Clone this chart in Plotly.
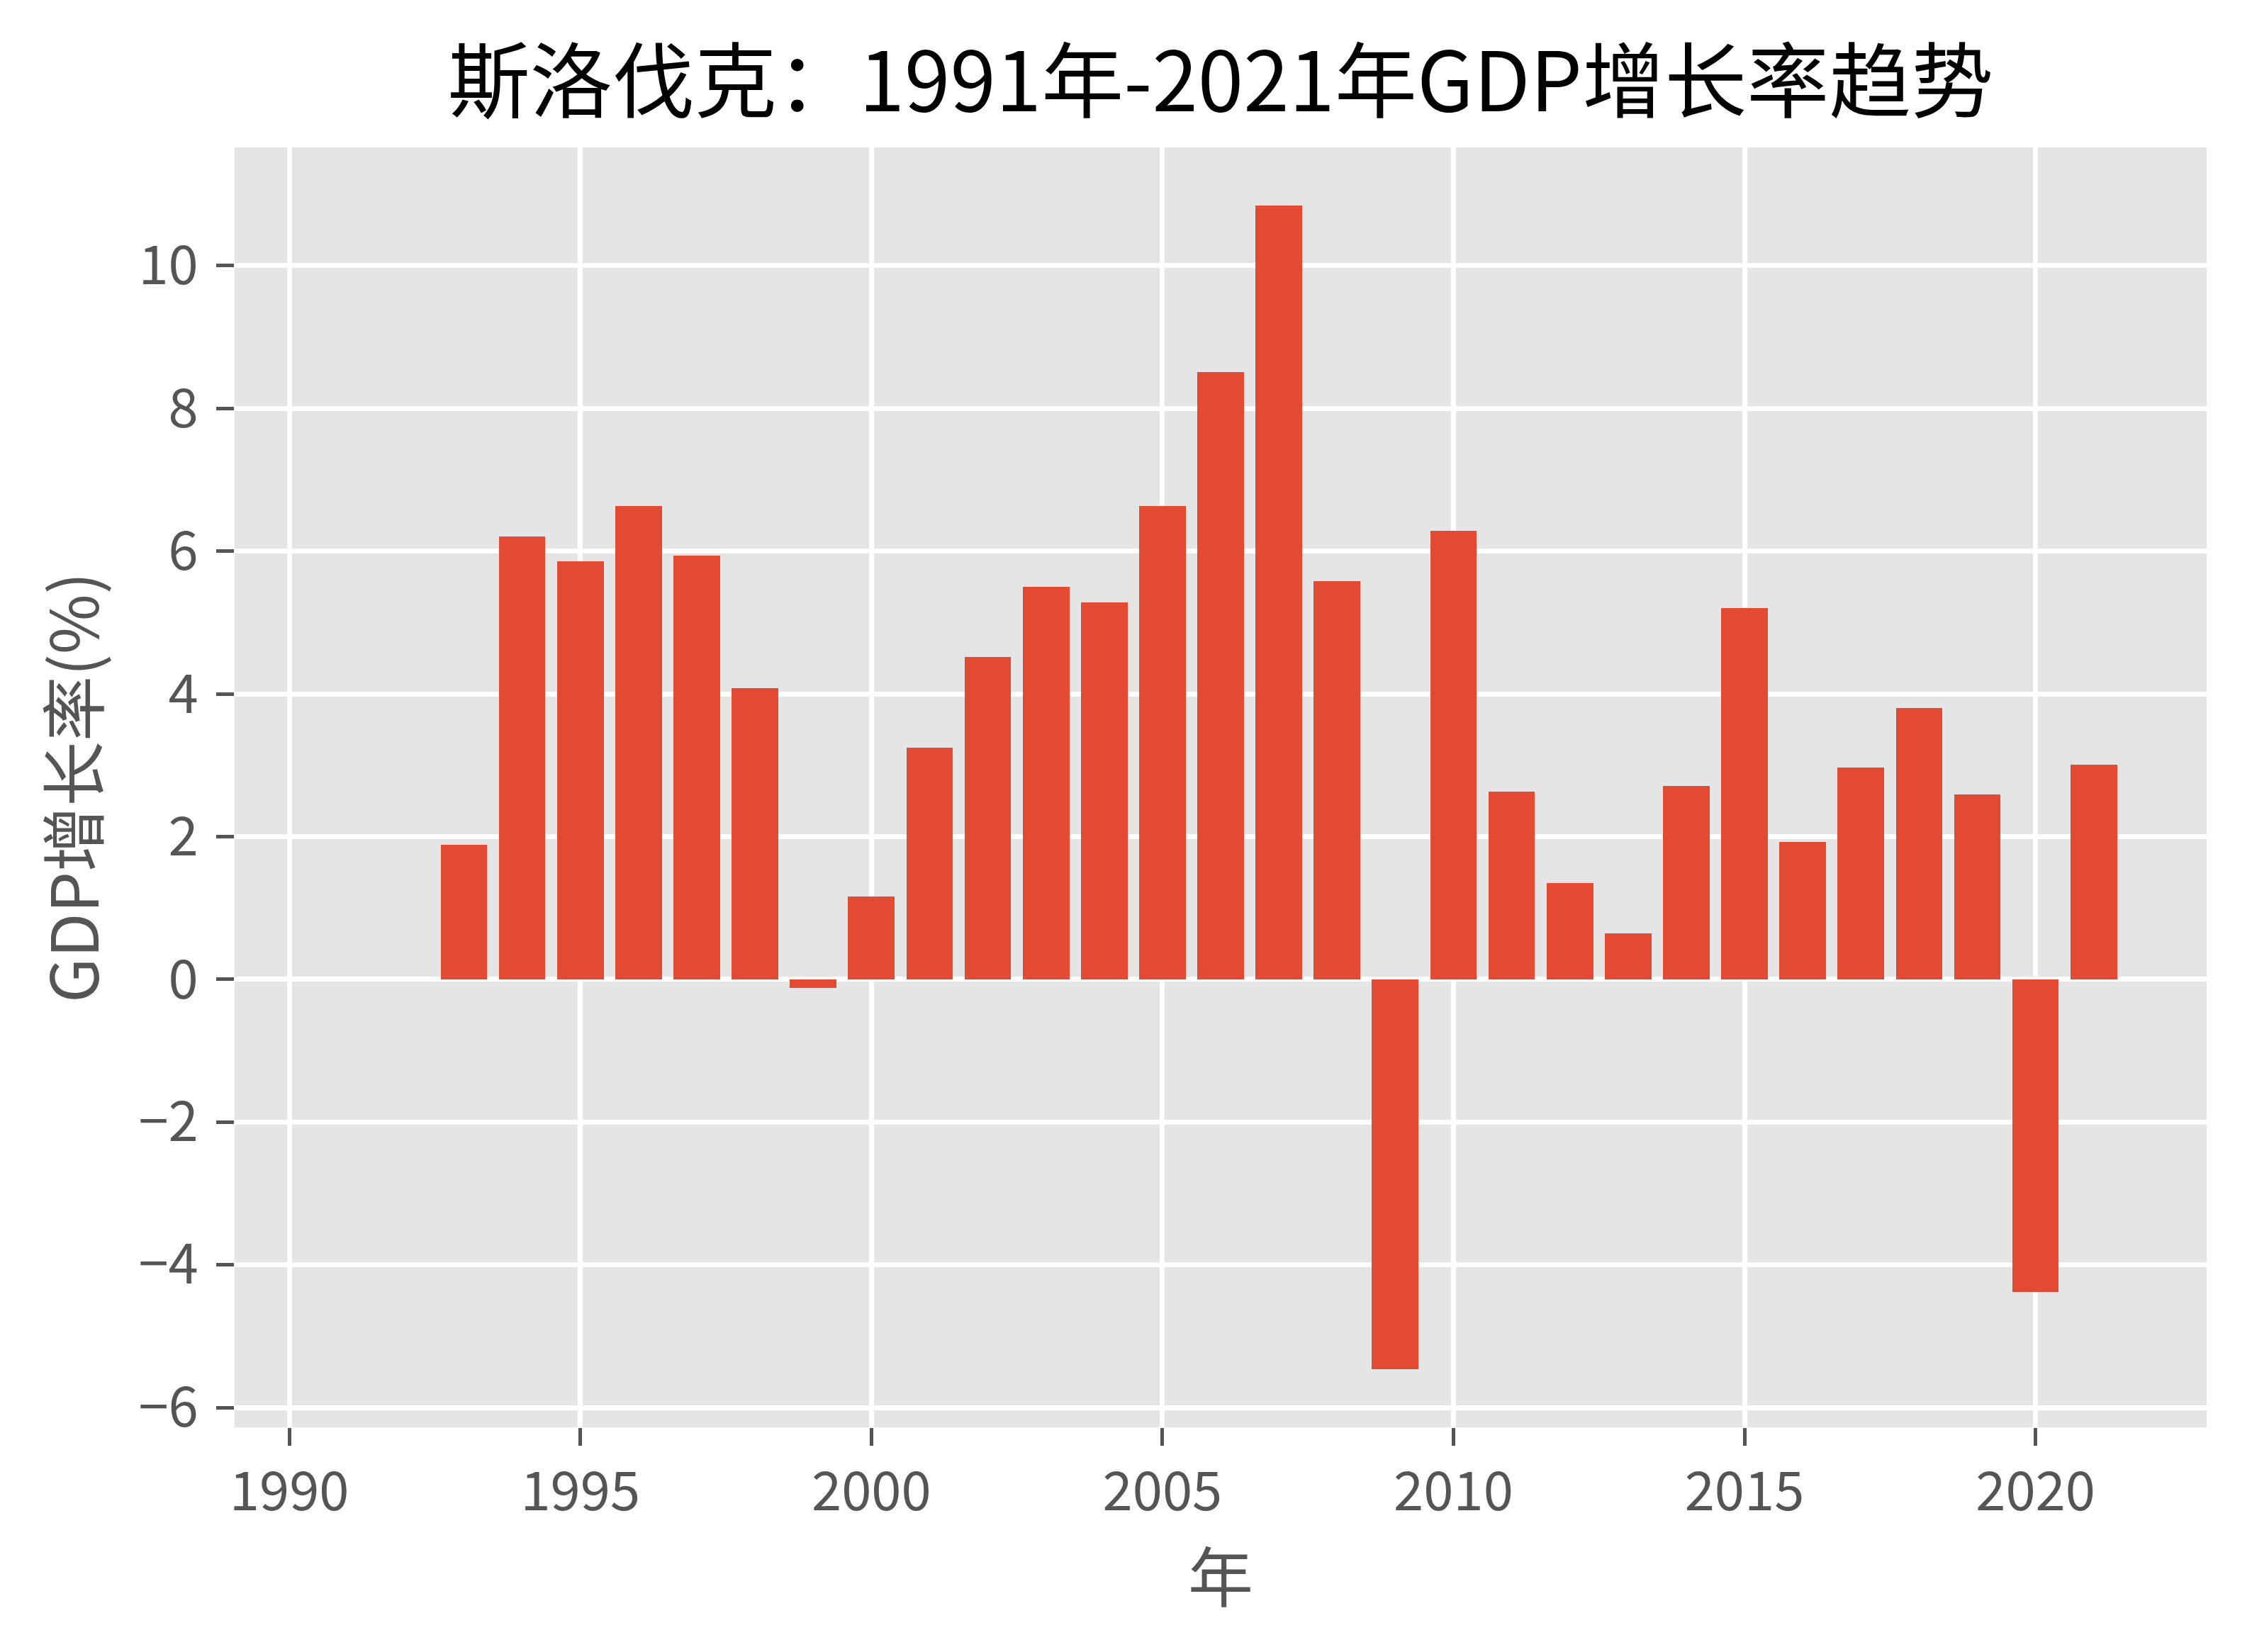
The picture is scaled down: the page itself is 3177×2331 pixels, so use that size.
import plotly.graph_objects as go

years = list(range(1991, 2022))
growth = [None, None, 1.89, 6.20, 5.86, 6.63, 5.94, 4.08, -0.12, 1.16,
          3.25, 4.52, 5.50, 5.28, 6.63, 8.51, 10.84, 5.58, -5.46, 6.28,
          2.63, 1.35, 0.64, 2.71, 5.20, 1.93, 2.97, 3.80, 2.59, -4.38, 3.01]

x_ticks = [1990, 1995, 2000, 2005, 2010, 2015, 2020]
y_ticks = [-6, -4, -2, 0, 2, 4, 6, 8, 10]

title_text = "斯洛伐克：1991年-2021年GDP增长率趋势"
x_label = "年"
y_label = "GDP增长率(%)"

FONT = "Noto Sans CJK SC"

fig = go.Figure()
fig.add_trace(go.Bar(x=years, y=growth, width=0.8,
                     marker=dict(color="#E24A33", line=dict(width=0))))

fig.update_layout(
    width=3177, height=2331,
    margin=dict(l=331, r=64, t=208, b=317),
    paper_bgcolor="white", plot_bgcolor="#E5E5E5",
    font=dict(family=FONT, color="#555555"),
    showlegend=False,
    title=dict(text=title_text, x=0.542, xref="container", xanchor="center",
               y=1 - 116 / 2331, yref="container", yanchor="middle",
               font=dict(family=FONT, size=116, color="black")),
    bargap=0,
)
fig.update_xaxes(range=[1989.06, 2022.94], tickvals=x_ticks,
                 ticktext=[str(t) for t in x_ticks],
                 showgrid=True, gridcolor="white", gridwidth=6.5,
                 zeroline=False, showline=False,
                 ticks="outside", ticklen=25, tickwidth=5, tickcolor="#555555",
                 tickfont=dict(family=FONT, size=76, color="#555555"),
                 ticklabelstandoff=0,
                 title=dict(text=x_label, standoff=24,
                            font=dict(family=FONT, size=92, color="#555555")))
fig.update_yaxes(range=[-6.275, 11.655], tickvals=y_ticks,
                 showgrid=True, gridcolor="white", gridwidth=6.5,
                 zeroline=False, showline=False,
                 ticks="outside", ticklen=25, tickwidth=5, tickcolor="#555555",
                 tickfont=dict(family=FONT, size=76, color="#555555"),
                 ticklabelstandoff=10,
                 title=dict(text=y_label, standoff=25,
                            font=dict(family=FONT, size=92, color="#555555")))

fig.write_html("out.html")
